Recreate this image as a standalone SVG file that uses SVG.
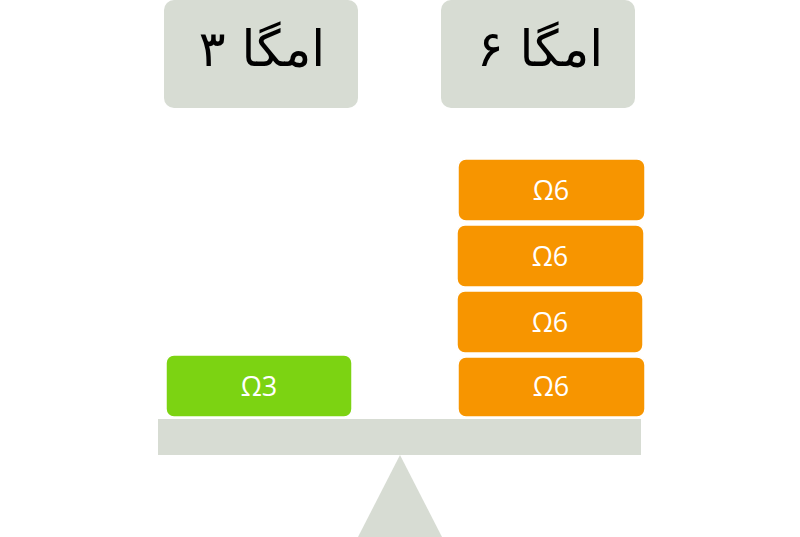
<svg xmlns="http://www.w3.org/2000/svg" width="800" height="537" viewBox="0 0 800 537">
<style>
.label{fill:#d7dcd3}
.o{fill:#f79500;stroke:#ffffff;stroke-width:1.5}
.g{fill:#7cd312;stroke:#ffffff;stroke-width:1.5}
.fa{font-family:"DejaVu Serif","DejaVu Sans",serif;font-size:50px;fill:#000;text-anchor:middle}
.w{font-family:"Open Sans","Noto Sans",sans-serif;font-size:27px;fill:#ffffff;text-anchor:middle}
.gray{fill:#d7dcd3}
</style>
<rect width="800" height="537" fill="#ffffff"/>
<g id="omega3-title">
<rect class="label" x="164" y="0" width="194" height="108" rx="10"/>
<text class="fa" x="262" y="66" direction="rtl">امگا ۳</text>
</g>
<g id="omega6-title">
<rect class="label" x="441" y="0" width="194" height="108" rx="10"/>
<text class="fa" x="540" y="66" direction="rtl">امگا ۶</text>
</g>
<g id="beam"><rect class="gray" x="158" y="419" width="483" height="36"/></g>
<g id="fulcrum"><polygon class="gray" points="400,455 442,537 358,537"/></g>
<g id="omega3-block">
<rect class="g" x="166" y="355" width="186" height="62" rx="8"/>
<text class="w" x="259" y="396">Ω3</text>
</g>
<g id="omega6-block-4">
<rect class="o" x="458" y="357" width="187" height="60" rx="8"/>
<text class="w" x="551" y="396">Ω6</text>
</g>
<g id="omega6-block-3">
<rect class="o" x="457" y="291" width="186" height="62" rx="8"/>
<text class="w" x="550" y="332">Ω6</text>
</g>
<g id="omega6-block-2">
<rect class="o" x="457" y="225" width="187" height="62" rx="8"/>
<text class="w" x="550" y="266">Ω6</text>
</g>
<g id="omega6-block-1">
<rect class="o" x="458" y="159" width="187" height="62" rx="8"/>
<text class="w" x="551" y="200">Ω6</text>
</g>
<g id="connectors"/>
</svg>
